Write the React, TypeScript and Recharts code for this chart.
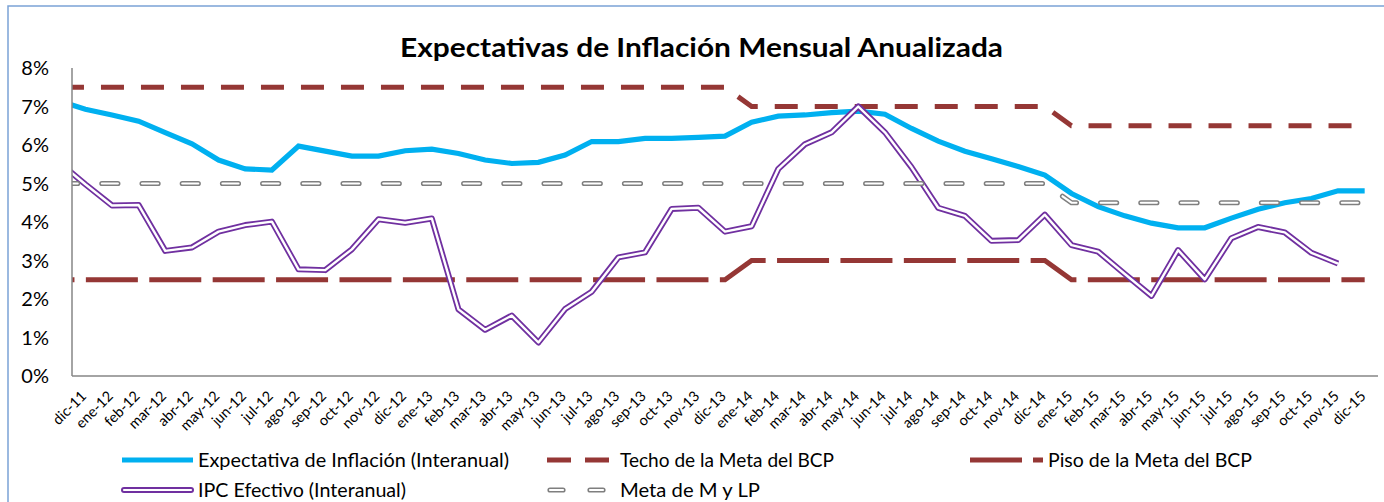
import React from 'react';
import { LineChart, Line, XAxis, YAxis, Customized } from 'recharts';

const categories = [
  'dic-11',
  'ene-12', 'feb-12', 'mar-12', 'abr-12', 'may-12', 'jun-12', 'jul-12', 'ago-12', 'sep-12', 'oct-12', 'nov-12', 'dic-12',
  'ene-13', 'feb-13', 'mar-13', 'abr-13', 'may-13', 'jun-13', 'jul-13', 'ago-13', 'sep-13', 'oct-13', 'nov-13', 'dic-13',
  'ene-14', 'feb-14', 'mar-14', 'abr-14', 'may-14', 'jun-14', 'jul-14', 'ago-14', 'sep-14', 'oct-14', 'nov-14', 'dic-14',
  'ene-15', 'feb-15', 'mar-15', 'abr-15', 'may-15', 'jun-15', 'jul-15', 'ago-15', 'sep-15', 'oct-15', 'nov-15', 'dic-15',
];

const expectativa = [
  6.93,
  6.78, 6.62, 6.32, 6.03, 5.61, 5.38, 5.35, 5.97, 5.84, 5.71, 5.71, 5.85,
  5.89, 5.78, 5.61, 5.52, 5.55, 5.74, 6.09, 6.09, 6.17, 6.17, 6.2, 6.23,
  6.59, 6.75, 6.78, 6.84, 6.88, 6.8, 6.43, 6.1, 5.84, 5.64, 5.44, 5.22,
  4.74, 4.4, 4.16, 3.97, 3.85, 3.85, 4.1, 4.33, 4.5, 4.61, 4.81, 4.81,
];

const ipc = [
  4.98,
  4.43, 4.44, 3.25, 3.34, 3.75, 3.92, 4.01, 2.77, 2.75, 3.29, 4.07, 3.98,
  4.09, 1.73, 1.2, 1.57, 0.87, 1.74, 2.19, 3.08, 3.21, 4.34, 4.37, 3.75,
  3.89, 5.38, 6.02, 6.33, 7.0, 6.33, 5.42, 4.37, 4.16, 3.51, 3.53, 4.19,
  3.4, 3.23, 2.65, 2.08, 3.27, 2.51, 3.58, 3.87, 3.73, 3.2, 2.92, null,
];

const techo = [
  7.5,
  7.5, 7.5, 7.5, 7.5, 7.5, 7.5, 7.5, 7.5, 7.5, 7.5, 7.5, 7.5,
  7.5, 7.5, 7.5, 7.5, 7.5, 7.5, 7.5, 7.5, 7.5, 7.5, 7.5, 7.5,
  7.0, 7.0, 7.0, 7.0, 7.0, 7.0, 7.0, 7.0, 7.0, 7.0, 7.0, 7.0,
  6.5, 6.5, 6.5, 6.5, 6.5, 6.5, 6.5, 6.5, 6.5, 6.5, 6.5, 6.5,
];

const piso = [
  2.5,
  2.5, 2.5, 2.5, 2.5, 2.5, 2.5, 2.5, 2.5, 2.5, 2.5, 2.5, 2.5,
  2.5, 2.5, 2.5, 2.5, 2.5, 2.5, 2.5, 2.5, 2.5, 2.5, 2.5, 2.5,
  3.0, 3.0, 3.0, 3.0, 3.0, 3.0, 3.0, 3.0, 3.0, 3.0, 3.0, 3.0,
  2.5, 2.5, 2.5, 2.5, 2.5, 2.5, 2.5, 2.5, 2.5, 2.5, 2.5, 2.5,
];

const meta = [
  5.0,
  5.0, 5.0, 5.0, 5.0, 5.0, 5.0, 5.0, 5.0, 5.0, 5.0, 5.0, 5.0,
  5.0, 5.0, 5.0, 5.0, 5.0, 5.0, 5.0, 5.0, 5.0, 5.0, 5.0, 5.0,
  5.0, 5.0, 5.0, 5.0, 5.0, 5.0, 5.0, 5.0, 5.0, 5.0, 5.0, 5.0,
  4.5, 4.5, 4.5, 4.5, 4.5, 4.5, 4.5, 4.5, 4.5, 4.5, 4.5, 4.5,
];

// month before the first labelled category (nov-11), cut off at the plot's left edge
const previousMonth = { label: 'nov-11', expectativa: 7.15, ipc: 5.56, techo: 7.5, piso: 2.5, meta: 5.0 };

const yTicks = [0, 1, 2, 3, 4, 5, 6, 7, 8];

const legendLabels = [
  'Expectativa de Inflación (Interanual)',
  'Techo de la Meta del BCP',
  'Piso de la Meta del BCP',
  'IPC Efectivo (Interanual)',
  'Meta de M y LP',
];

const data = [
  {
    x: -1,
    expectativa: previousMonth.expectativa,
    ipc: previousMonth.ipc,
    techo: previousMonth.techo,
    piso: previousMonth.piso,
    meta: previousMonth.meta,
  },
  ...categories.map((c, i) => ({
    x: i,
    expectativa: expectativa[i],
    ipc: ipc[i],
    techo: techo[i],
    piso: piso[i],
    meta: meta[i],
  })),
];

const FONT = 'Lato, "Open Sans", sans-serif';
const BLUE = '#00B0F0';
const RED = '#953735';
const PURPLE = '#7030A0';
const GRAY = '#7F7F7F';

const renderXTick = (props: any) => {
  const { x, y, payload } = props;
  const ax = x + 2;
  const ay = y + 21;
  return (
    <text
      x={ax}
      y={ay}
      transform={`rotate(-45 ${ax} ${ay})`}
      textAnchor="end"
      fontSize={14.5}
      fontFamily={FONT}
      fill="#000"
    >
      {categories[payload.value]}
    </text>
  );
};

const LegendText = ({ x, y, w, children }: any) => (
  <text x={x} y={y} fontFamily={FONT} fontSize={19} fill="#000" textLength={w} lengthAdjust="spacingAndGlyphs">
    {children}
  </text>
);

const Overlay = () => (
  <g>
    <text
      x={701.5}
      y={57}
      textAnchor="middle"
      fontFamily={FONT}
      fontWeight="bold"
      fontSize={26}
      fill="#000"
      textLength={603}
      lengthAdjust="spacingAndGlyphs"
    >
      Expectativas de Inflación Mensual Anualizada
    </text>

    {/* legend row 1 */}
    <line x1={122} x2={193} y1={460} y2={460} stroke={BLUE} strokeWidth={5} />
    <LegendText x={198} y={466.5} w={311}>{legendLabels[0]}</LegendText>

    <line x1={547} x2={609} y1={460} y2={460} stroke={RED} strokeWidth={5} strokeDasharray="24 14" />
    <LegendText x={620} y={466.5} w={214}>{legendLabels[1]}</LegendText>

    <line x1={970} x2={1043} y1={460} y2={460} stroke={RED} strokeWidth={5} strokeDasharray="52 11" />
    <LegendText x={1048} y={466.5} w={204}>{legendLabels[2]}</LegendText>

    {/* legend row 2 */}
    <line x1={124} x2={191} y1={490} y2={490} stroke={PURPLE} strokeWidth={6} strokeLinecap="round" />
    <line x1={124} x2={191} y1={490} y2={490} stroke="#fff" strokeWidth={2.2} strokeLinecap="round" />
    <LegendText x={198} y={496.5} w={208}>{legendLabels[3]}</LegendText>

    <line x1={550} x2={604} y1={490} y2={490} stroke={GRAY} strokeWidth={5.2} strokeLinecap="round" strokeDasharray="13 27" />
    <line x1={550} x2={604} y1={490} y2={490} stroke="#fff" strokeWidth={2.2} strokeLinecap="round" strokeDasharray="13 27" />
    <LegendText x={620} y={496.5} w={140}>{legendLabels[4]}</LegendText>

    {/* chart border */}
    <path d="M 8 510 L 8 6 L 1390 6" fill="none" stroke="#7BA3D6" strokeWidth={1.5} />
  </g>
);

export default function App() {
  return (
    <div style={{ position: 'absolute', left: 0, top: 0, width: 1384, height: 502, background: '#fff' }}>
      <LineChart
        width={1384}
        height={502}
        data={data}
        margin={{ top: 68, right: 6, bottom: 0, left: 0 }}
      >
        <XAxis
          type="number"
          dataKey="x"
          domain={[-0.5, 48.5]}
          allowDataOverflow
          ticks={categories.map((_, i) => i)}
          interval={0}
          tick={renderXTick}
          tickLine={false}
          tickSize={0}
          tickMargin={0}
          height={126}
          axisLine={{ stroke: '#868686', strokeWidth: 1.5 }}
        />
        <YAxis
          type="number"
          domain={[0, 8]}
          ticks={yTicks}
          interval={0}
          tickFormatter={(v: number) => `${v}%`}
          width={72}
          tickLine={false}
          tickSize={0}
          tickMargin={23}
          axisLine={{ stroke: '#868686', strokeWidth: 1.5 }}
          tick={{ fontSize: 20, fill: '#000', fontFamily: FONT }}
        />
        <Line
          type="linear"
          dataKey="expectativa"
          stroke={BLUE}
          strokeWidth={5.2}
          dot={false}
          activeDot={false}
          isAnimationActive={false}
        />
        <Line
          type="linear"
          dataKey="techo"
          stroke={RED}
          strokeWidth={5}
          strokeDasharray="23 17"
          strokeDashoffset={37.7}
          dot={false}
          activeDot={false}
          isAnimationActive={false}
        />
        <Line
          type="linear"
          dataKey="piso"
          stroke={RED}
          strokeWidth={5}
          strokeDasharray="52 11.4"
          strokeDashoffset={36.2}
          dot={false}
          activeDot={false}
          isAnimationActive={false}
        />
        <Line
          type="linear"
          dataKey="ipc"
          stroke={PURPLE}
          strokeWidth={6}
          strokeLinejoin="round"
          dot={false}
          activeDot={false}
          isAnimationActive={false}
        />
        <Line
          type="linear"
          dataKey="ipc"
          stroke="#fff"
          strokeWidth={2.4}
          strokeLinejoin="round"
          dot={false}
          activeDot={false}
          isAnimationActive={false}
          legendType="none"
        />
        <Line
          type="linear"
          dataKey="meta"
          stroke={GRAY}
          strokeWidth={5.2}
          strokeLinecap="round"
          strokeDasharray="16 24.2"
          strokeDashoffset={37.2}
          dot={false}
          activeDot={false}
          isAnimationActive={false}
        />
        <Line
          type="linear"
          dataKey="meta"
          stroke="#fff"
          strokeWidth={2.2}
          strokeLinecap="round"
          strokeDasharray="16 24.2"
          strokeDashoffset={37.2}
          dot={false}
          activeDot={false}
          isAnimationActive={false}
          legendType="none"
        />
        <Customized component={Overlay} />
      </LineChart>
    </div>
  );
}
